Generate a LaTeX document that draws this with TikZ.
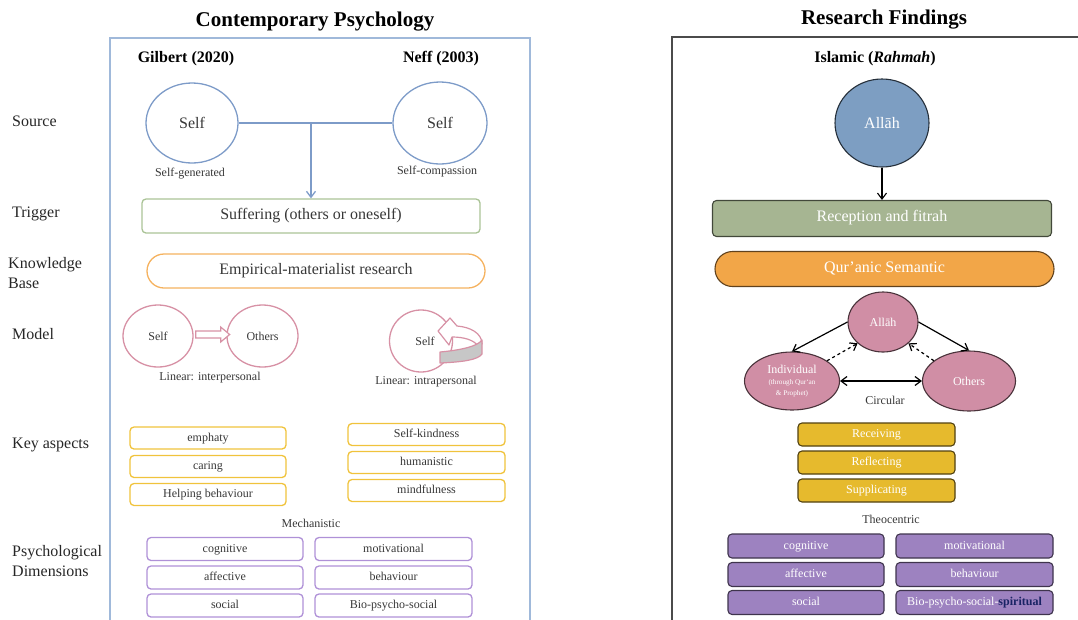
\documentclass[tikz,border=0pt]{standalone}
\usepackage{fontspec}
\setmainfont{Liberation Serif}
\usetikzlibrary{calc,arrows.meta,shapes.geometric}
\definecolor{frameblue}{RGB}{160,185,218}
\definecolor{circblue}{RGB}{125,155,200}
\definecolor{grstroke}{RGB}{170,195,150}
\definecolor{orstroke}{RGB}{245,178,95}
\definecolor{pkstroke}{RGB}{215,145,165}
\definecolor{ylstroke}{RGB}{240,195,60}
\definecolor{pustroke}{RGB}{175,145,215}
\definecolor{txtgray}{RGB}{55,55,55}
\definecolor{bluefill}{RGB}{125,158,194}
\definecolor{greenfill}{RGB}{166,181,146}
\definecolor{orangefill}{RGB}{242,166,72}
\definecolor{pinkfill}{RGB}{208,142,165}
\definecolor{yellowfill}{RGB}{230,186,45}
\definecolor{purplefill}{RGB}{157,130,192}
\definecolor{darkline}{RGB}{75,75,75}
\definecolor{navy}{RGB}{25,35,100}
\newcommand{\fsA}{\fontsize{21}{24}\selectfont}
\newcommand{\fsB}{\fontsize{16}{20}\selectfont}
\newcommand{\fsC}{\fontsize{12}{14}\selectfont}
\newcommand{\fsD}{\fontsize{7.2}{8}\selectfont}
\begin{document}
\begin{tikzpicture}[x=1pt,y=-1pt,
  title/.style={font=\fsA\bfseries, text=black, inner sep=0},
  hd/.style={font=\fsB\bfseries, text=black, inner sep=0},
  lbl/.style={font=\fsB, text=black!85, anchor=west, align=left, inner sep=0},
  small/.style={font=\fsC, text=txtgray, inner sep=0},
  td/.style={text height=0.7em, text depth=0.04em},
  bcirc/.style={ellipse, draw=circblue, line width=1.3, font=\fsB, text=txtgray, inner sep=0},
  gbox/.style={td, draw=grstroke, line width=1.3, rounded corners=4, font=\fsB, text=txtgray, minimum width=338, minimum height=34, inner sep=0},
  obox/.style={td, draw=orstroke, line width=1.3, rounded corners=17, font=\fsB, text=txtgray, minimum width=338, minimum height=34, inner sep=0},
  pell/.style={ellipse, draw=pkstroke, line width=1.3, font=\fsC, text=txtgray, inner sep=0},
  ybox/.style={td, draw=ylstroke, line width=1.3, rounded corners=4, font=\fsC, text=txtgray, minimum width=156, minimum height=22, inner sep=0},
  pbox/.style={td, draw=pustroke, line width=1.3, rounded corners=4, font=\fsC, text=txtgray, minimum width=156, minimum height=23, inner sep=0},
  fcirc/.style={ellipse, draw=darkline, line width=1.1, text=white, inner sep=0},
  fbox/.style={td, draw=darkline, line width=1.1, rounded corners=4, text=white, inner sep=0},
  yfbox/.style={fbox, fill=yellowfill, draw=black!65!yellowfill, font=\fsC, minimum width=157, minimum height=23},
  pfbox/.style={fbox, fill=purplefill, draw=black!60!purplefill, font=\fsC, minimum width=156, minimum height=24},
  barrow/.style={-{Straight Barb[length=6pt,width=9pt]}, line width=1.1},
]
\useasboundingbox (0,0) rectangle (1078,619);
% titles
\node[title] (t1) at (315,22) {Contemporary Psychology};
\node[title] (t2) at (884,20) {Research Findings};
% frames
\draw[frameblue, line width=1.2] (110,38) rectangle (530,630);
\draw[darkline, line width=1.1] (672,37) rectangle (1090,630);
% row labels
\node[lbl] (r1) at (12,121) {Source};
\node[lbl] (r2) at (12,214) {Trigger};
\node[lbl] (r3) at (8,273) {Knowledge\\Base};
\node[lbl] (r4) at (12,334) {Model};
\node[lbl] (r5) at (12,445) {Key aspects};
\node[lbl] (r6) at (12,561) {Psychological\\Dimensions};
% left panel: source
\node[hd] (gil) at (186,59) {Gilbert (2020)};
\node[hd] (nef) at (441,59) {Neff (2003)};
\node[bcirc, minimum width=92, minimum height=80] (g) at (192,123) {Self};
\node[bcirc, minimum width=94, minimum height=82] (n) at (440,123) {Self};
\node[small] (gl) at (190,174) {Self-generated};
\node[small] (nl) at (437,172) {Self-compassion};
\node[gbox] (suff) at (311,216) {Suffering (others or oneself)};
\node[obox] (emp) at (316,271) {Empirical-materialist research};
\draw[circblue, line width=1.3] (g.east) -- (n.west);
\draw[circblue, barrow, line width=1.3] (suff.north |- g.east) -- (suff.north);
% model
\node[pell, minimum width=70, minimum height=62] (ms) at (158,336) {Self};
\node[pell, minimum width=71, minimum height=62] (mo) at (262.5,336) {Others};
\draw[pkstroke, line width=1.2, fill=white, line join=miter]
  ($(ms.east)+(2,-5)$) -- ++(25,0) -- ++(0,-4) -- ++(9,7.5) -- ++(-9,7.5) -- ++(0,-4) -- ++(-25,0) -- cycle;
\node[small] (lin1) at (210,378) {Linear: interpersonal};
\node[pell, minimum width=63, minimum height=62] (ms2) at (421,341) {};
\node[small] (s2t) at (425,341) {Self};
% curved 3D arrow
\draw[pkstroke, line width=1.2, fill=white, line join=round]
  (482,344) .. controls (482,333) and (470,327) .. (457,326) -- (450,318) -- (438,331) -- (449,345) -- (452,337)
  .. controls (464,337) and (474,340) .. (478,346) -- cycle;
\draw[pkstroke, line width=1.2, fill=black!22, line join=round]
  (440,352) .. controls (462,350) and (478,346) .. (482,340) -- (482,354)
  .. controls (478,360) and (462,362) .. (440,363) -- cycle;
\node[small] (lin2) at (426,382) {Linear: intrapersonal};
% key aspects
\node[ybox] (k1) at (208,438) {emphaty};
\node[ybox] (k2) at (208,466.5) {caring};
\node[ybox] (k3) at (208,494.5) {Helping behaviour};
\node[ybox, minimum width=157] (k4) at (426.5,434.5) {Self-kindness};
\node[ybox, minimum width=157] (k5) at (426.5,462.5) {humanistic};
\node[ybox, minimum width=157] (k6) at (426.5,490.5) {mindfulness};
\node[small] (mech) at (311,523) {Mechanistic};
\node[pbox] (d1) at (225,549) {cognitive};
\node[pbox] (d2) at (225,577.5) {affective};
\node[pbox] (d3) at (225,605.5) {social};
\node[pbox, minimum width=157] (d4) at (393.5,549) {motivational};
\node[pbox, minimum width=157] (d5) at (393.5,577.5) {behaviour};
\node[pbox, minimum width=157] (d6) at (393.5,605.5) {Bio-psycho-social};
% right panel
\node[hd] (isl) at (875,59) {Islamic (\textit{Rahmah})};
\node[fcirc, fill=bluefill, draw=black!70!bluefill, minimum width=94, minimum height=88, font=\fsB] (al) at (882,123) {Allāh};
\node[fbox, fill=greenfill, draw=black!60!greenfill, minimum width=339, minimum height=36, font=\fsB] (rec) at (882,218.5) {Reception and fitrah};
\node[fbox, fill=orangefill, draw=black!60!orangefill, rounded corners=17.5, minimum width=339, minimum height=35, font=\fsB] (qur) at (884.5,269) {Qur’anic Semantic};
\draw[barrow, black] (al) -- (rec);
\node[fcirc, fill=pinkfill, draw=black!65!pinkfill, minimum width=70, minimum height=60, font=\fsC] (a2) at (883,322) {Allāh};
\node[fcirc, fill=pinkfill, draw=black!65!pinkfill, minimum width=95, minimum height=58, align=center, font=\fsC] (ind) at (792,381) {Individual\\[-3pt]{\fsD (through Qur`an}\\[-3pt]{\fsD \& Prophet)}};
\node[fcirc, fill=pinkfill, draw=black!65!pinkfill, minimum width=93, minimum height=60, font=\fsC] (oth) at (969,381) {Others};
\draw[barrow, black, line width=1.2] (a2.west) -- (ind.north);
\draw[barrow, black, line width=1.2] (a2.east) -- (oth.north);
\draw[barrow, black, line width=1.2, dashed] (ind.30) -- (a2.220);
\draw[barrow, black, line width=1.2, dashed] (oth.150) -- (a2.320);
\draw[{Straight Barb[length=6pt,width=9pt]}-{Straight Barb[length=6pt,width=9pt]}, black, line width=1.2] (ind.east) -- (oth.west);
\node[small] (circ) at (885,400) {Circular};
\node[yfbox] (y1) at (876.5,434.5) {Receiving};
\node[yfbox] (y2) at (876.5,462.5) {Reflecting};
\node[yfbox] (y3) at (876.5,490.5) {Supplicating};
\node[small] (theo) at (891,519) {Theocentric};
\node[pfbox] (p1) at (806,546) {cognitive};
\node[pfbox] (p2) at (806,574.5) {affective};
\node[pfbox] (p3) at (806,602.5) {social};
\node[pfbox, minimum width=157] (p4) at (974.5,546) {motivational};
\node[pfbox, minimum width=157] (p5) at (974.5,574.5) {behaviour};
\node[pfbox, minimum width=157] (p6) at (974.5,602.5) {Bio-psycho-social-\textcolor{navy}{\textbf{spiritual}}};
\end{tikzpicture}
\end{document}
